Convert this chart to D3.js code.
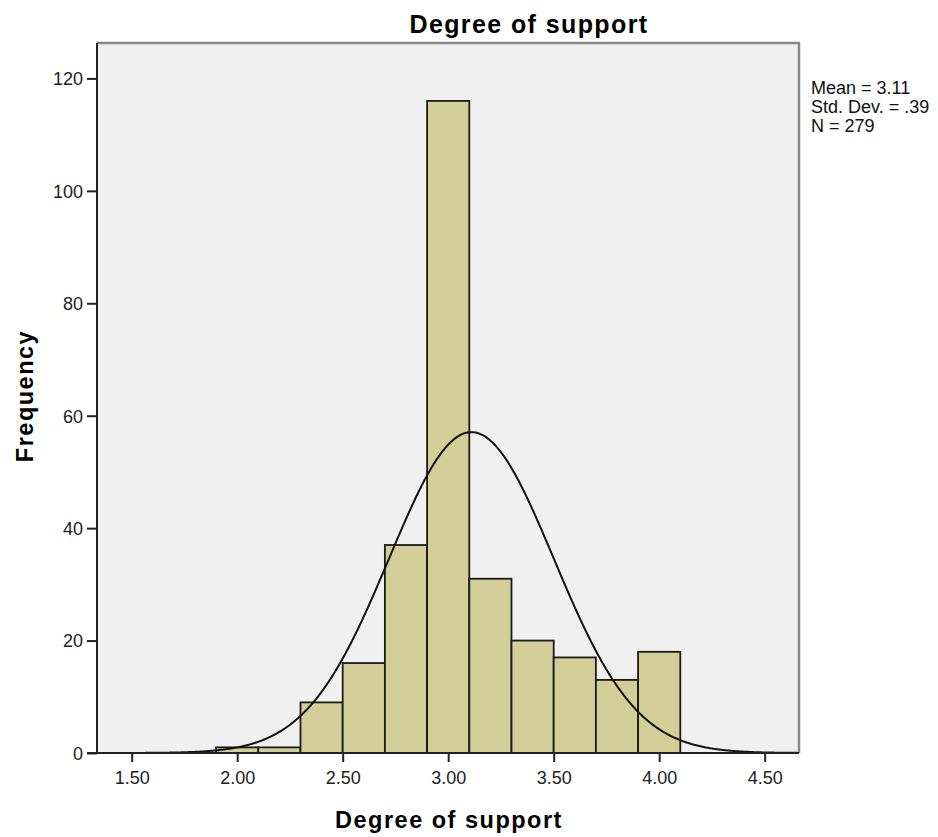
<!DOCTYPE html>
<html>
<head>
<meta charset="utf-8">
<script src="https://cdn.jsdelivr.net/npm/d3@7"></script>
<style>
  body { margin: 0; background: #fff; }
  svg { font-family: "Liberation Sans", Arial, sans-serif; }
</style>
</head>
<body>
<svg id="chart" width="938" height="837"></svg>
<script>
// Histogram bins (lower edge) and counts
const binStarts = [1.9, 2.1, 2.3, 2.5, 2.7, 2.9, 3.1, 3.3, 3.5, 3.7, 3.9];
const binWidth = 0.2;
const counts = [1, 1, 9, 16, 37, 116, 31, 20, 17, 13, 18];
const xTicks = [1.5, 2.0, 2.5, 3.0, 3.5, 4.0, 4.5];
const yTicks = [0, 20, 40, 60, 80, 100, 120];
const mean = 3.11, sd = 0.39, n = 279;
const statLines = ["Mean = 3.11", "Std. Dev. = .39", "N = 279"];

const svg = d3.select("#chart");
const L = 97, R = 799, T = 43, B = 753;

const x = d3.scaleLinear().domain([1.3356, 4.6626]).range([L, R]);
const y = d3.scaleLinear().domain([0, 126.3]).range([B, T]);

// plot background
svg.append("rect").attr("x", L).attr("y", T).attr("width", R - L).attr("height", B - T)
  .attr("fill", "#f0f0f0");

// bars
svg.append("g").selectAll("rect").data(binStarts).join("rect")
  .attr("x", d => x(d))
  .attr("y", (d, i) => y(counts[i]))
  .attr("width", d => x(d + binWidth) - x(d))
  .attr("height", (d, i) => y(0) - y(counts[i]))
  .attr("fill", "#d3ce97")
  .attr("stroke", "#1a1a1a")
  .attr("stroke-width", 1.8);

// normal curve scaled to counts
const pdf = v => n * binWidth * Math.exp(-0.5 * ((v - mean) / sd) ** 2) / (sd * Math.sqrt(2 * Math.PI));
const xs = d3.range(1.3356, 4.6626, 0.005);
svg.append("path")
  .datum(xs)
  .attr("fill", "none")
  .attr("stroke", "#111")
  .attr("stroke-width", 2)
  .attr("d", d3.line().x(d => x(d)).y(d => y(pdf(d))));

// frame
svg.append("line").attr("x1", L).attr("x2", R + 1).attr("y1", T).attr("y2", T)
  .attr("stroke", "#888").attr("stroke-width", 2.5);
svg.append("line").attr("x1", R).attr("x2", R).attr("y1", T).attr("y2", B)
  .attr("stroke", "#888").attr("stroke-width", 2.5);

// axes
const xAxis = svg.append("g").attr("transform", `translate(0,${B})`)
  .call(d3.axisBottom(x).tickValues(xTicks).tickFormat(d3.format(".2f")).tickSize(9).tickSizeOuter(0));
const yAxis = svg.append("g").attr("transform", `translate(${L},0)`)
  .call(d3.axisLeft(y).tickValues(yTicks).tickSize(10).tickSizeOuter(0));
[xAxis, yAxis].forEach(g => {
  g.attr("font-size", null).attr("font-family", null);
  g.select(".domain").attr("stroke", "#222").attr("stroke-width", 2);
  g.selectAll(".tick line").attr("stroke", "#222").attr("stroke-width", 2);
  g.selectAll(".tick text").attr("fill", "#222")
    .style("font-size", "18px")
    .style("font-family", "'Liberation Sans', Arial, sans-serif");
});
xAxis.select(".domain").attr("d", `M${L - 10},0H${R}`);
yAxis.select(".domain").attr("d", `M0,${B}V${T}`);
xAxis.selectAll(".tick text").attr("y", 31).attr("dy", 0);
yAxis.selectAll(".tick text").attr("x", -14).attr("dy", "0.35em");

// titles
const bold = (sel, size, ls) => sel.attr("font-weight", "bold").attr("fill", "#000")
  .style("font-size", size + "px").style("letter-spacing", ls + "px");
bold(svg.append("text").attr("x", 529).attr("y", 33).attr("text-anchor", "middle"), 25, 1.4)
  .text("Degree of support");
bold(svg.append("text").attr("x", 449).attr("y", 828).attr("text-anchor", "middle"), 23.5, 1.5)
  .text("Degree of support");
bold(svg.append("text").attr("transform", "translate(33,396) rotate(-90)").attr("text-anchor", "middle"), 23.5, 1.5)
  .text("Frequency");

// summary statistics
svg.append("g").selectAll("text").data(statLines).join("text")
  .attr("x", 811).attr("y", (d, i) => 94 + i * 19)
  .style("font-size", "18px").attr("fill", "#111")
  .text(d => d);
</script>
</body>
</html>
